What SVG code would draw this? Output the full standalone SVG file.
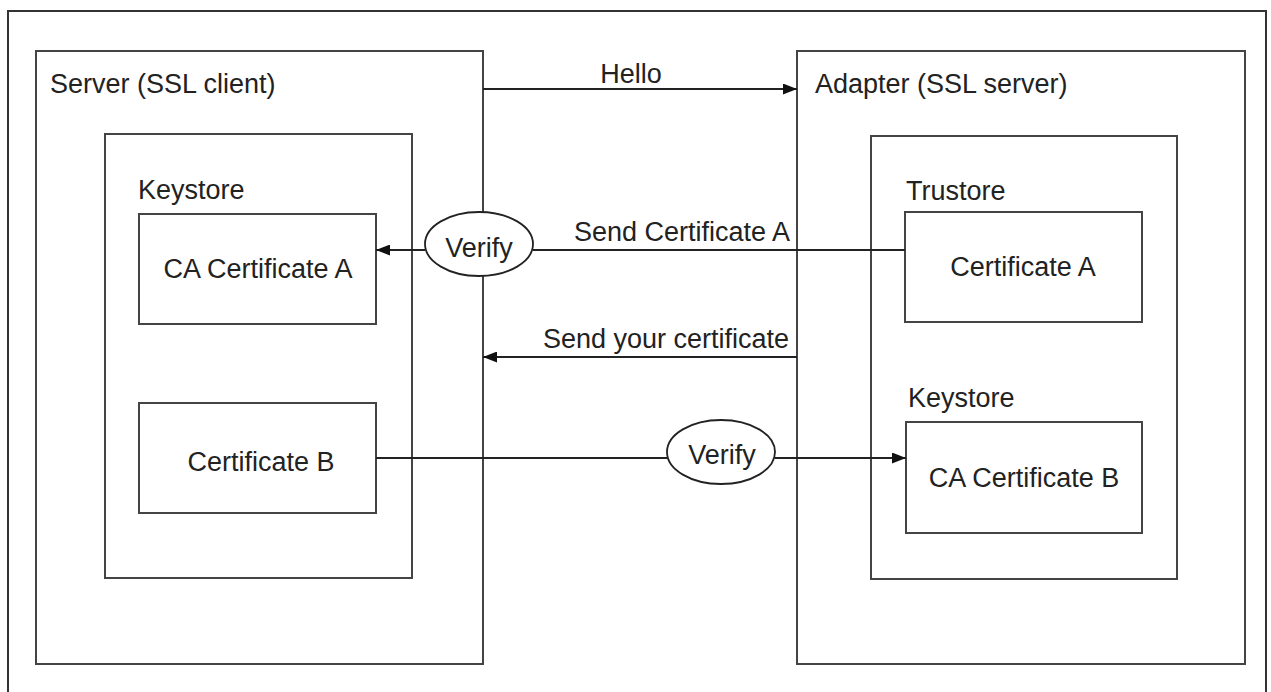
<svg xmlns="http://www.w3.org/2000/svg" width="1271" height="692" viewBox="0 0 1271 692">
  <style>
    .box { fill: none; stroke: #444; stroke-width: 2; }
    .frame { fill: none; stroke: #333; stroke-width: 2; }
    .conn { fill: none; stroke: #222; stroke-width: 1.8; }
    .ell { fill: #fff; stroke: #222; stroke-width: 1.8; }
    text { font-family: "Liberation Sans", Arial, Helvetica, sans-serif; font-size: 27px; fill: #222; }
    .c { text-anchor: middle; }
    .e { text-anchor: end; }
  </style>
  <defs>
    <marker id="arr" viewBox="0 0 14 11" refX="14" refY="5.5" markerWidth="14" markerHeight="11" markerUnits="userSpaceOnUse" orient="auto">
      <path d="M0,0 L14,5.5 L0,11 Z" fill="#111"/>
    </marker>
  </defs>
  <rect width="1271" height="692" fill="#fff"/>
  <path class="frame" d="M8,700 V11 H1266 V700"/>

  <g id="server">
    <rect class="box" x="36" y="51" width="447" height="613"/>
    <text x="50" y="93">Server (SSL client)</text>
  </g>
  <g id="server-keystore">
    <rect class="box" x="105" y="134" width="307" height="444"/>
    <text x="138" y="199">Keystore</text>
  </g>
  <g id="ca-cert-a">
    <rect class="box" x="139" y="214" width="237" height="110"/>
    <text class="c" x="258" y="278">CA Certificate A</text>
  </g>
  <g id="cert-b">
    <rect class="box" x="139" y="403" width="237" height="110"/>
    <text class="c" x="261" y="471">Certificate B</text>
  </g>

  <g id="adapter">
    <rect class="box" x="797" y="51" width="448" height="613"/>
    <text x="815" y="93">Adapter (SSL server)</text>
  </g>
  <g id="adapter-stores">
    <rect class="box" x="871" y="136" width="306" height="443"/>
    <text x="906" y="200">Trustore</text>
    <text x="908" y="407">Keystore</text>
  </g>
  <g id="cert-a">
    <rect class="box" x="905" y="212" width="237" height="110"/>
    <text class="c" x="1023" y="276">Certificate A</text>
  </g>
  <g id="ca-cert-b">
    <rect class="box" x="906" y="422" width="236" height="111"/>
    <text class="c" x="1024" y="487">CA Certificate B</text>
  </g>

  <g id="connectors">
    <line class="conn" x1="483" y1="89" x2="797" y2="89" marker-end="url(#arr)"/>
    <line class="conn" x1="905" y1="250" x2="533" y2="250"/>
    <line class="conn" x1="425" y1="250" x2="376" y2="250" marker-end="url(#arr)"/>
    <line class="conn" x1="797" y1="357" x2="483" y2="357" marker-end="url(#arr)"/>
    <line class="conn" x1="376" y1="458" x2="667" y2="458"/>
    <line class="conn" x1="775" y1="458" x2="906" y2="458" marker-end="url(#arr)"/>
    <text class="c" x="631" y="83">Hello</text>
    <text class="e" x="790" y="241">Send Certificate A</text>
    <text class="e" x="789" y="348">Send your certificate</text>
  </g>

  <g id="verify-1">
    <ellipse class="ell" cx="479" cy="244" rx="54" ry="32"/>
    <text class="c" x="479" y="257">Verify</text>
  </g>
  <g id="verify-2">
    <ellipse class="ell" cx="721" cy="452" rx="54" ry="32"/>
    <text class="c" x="722" y="464">Verify</text>
  </g>
</svg>
